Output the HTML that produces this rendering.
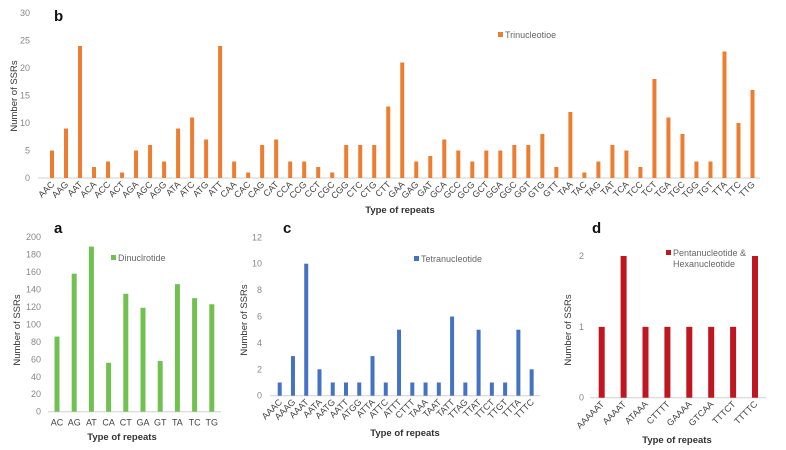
<!DOCTYPE html>
<html><head><meta charset="utf-8"><style>
body{margin:0;background:#fff;}
svg{display:block;font-family:"Liberation Sans",sans-serif;}
.tk{fill:#888;font-size:9px;}
.ti{fill:#444;font-size:9px;}
.pl{font-weight:bold;font-size:15px;fill:#111;}
</style></head><body>
<svg id="c" width="786" height="450" viewBox="0 0 786 450"></svg>
<script>
const triCats=["AAC","AAG","AAT","ACA","ACC","ACT","AGA","AGC","AGG","ATA","ATC","ATG","ATT","CAA","CAC","CAG","CAT","CCA","CCG","CCT","CGC","CGG","CTC","CTG","CTT","GAA","GAG","GAT","GCA","GCC","GCG","GCT","GGA","GGC","GGT","GTG","GTT","TAA","TAC","TAG","TAT","TCA","TCC","TCT","TGA","TGC","TGG","TGT","TTA","TTC","TTG"];
const triVals=[5,9,24,2,3,1,5,6,3,9,11,7,24,3,1,6,7,3,3,2,1,6,6,6,13,21,3,4,7,5,3,5,5,6,6,8,2,12,1,3,6,5,2,18,11,8,3,3,23,10,16];
const triTicks=[0,5,10,15,20,25,30];
const diCats=["AC","AG","AT","CA","CT","GA","GT","TA","TC","TG"];
const diVals=[86,158,189,56,135,119,58,146,130,123];
const diTicks=[0,20,40,60,80,100,120,140,160,180,200];
const tetraCats=["AAAC","AAAG","AAAT","AATA","AATG","AATT","ATGG","ATTA","ATTC","ATTT","CTTT","TAAA","TAAT","TATT","TTAG","TTAT","TTCT","TTGT","TTTA","TTTC"];
const tetraVals=[1,3,10,2,1,1,1,3,1,5,1,1,1,6,1,5,1,1,5,2];
const tetraTicks=[0,2,4,6,8,10,12];
const pentaCats=["AAAAAT","AAAAT","ATAAA","CTTTT","GAAAA","GTCAA","TTTCT","TTTTC"];
const pentaVals=[1,2,1,1,1,1,1,2];
const pentaTicks=[0,1,2];

const svg=document.getElementById('c');
const NS="http://www.w3.org/2000/svg";
function mk(t,a,txt){const e=document.createElementNS(NS,t);for(const k in a)e.setAttribute(k,a[k]);if(txt!==undefined)e.textContent=txt;svg.appendChild(e);return e;}

function panel(o,cats,vals,ticks){
  const max=ticks[ticks.length-1];
  const y=v=>o.y0-(v/max)*(o.y0-o.yTop);
  const x=i=>o.x0+i*o.dx;
  let e;
  e=mk('line',{x1:o.ax0,x2:o.ax1,y1:o.y0,y2:o.y0,stroke:'#d0d0d0','stroke-width':1});
  
  
  ticks.forEach(t=>{
    e=mk('text',{x:o.tx,y:y(t)+3,'text-anchor':'end',class:'tk'},t);
    
    
  });
  cats.forEach((c,i)=>{
    e=mk('rect',{x:x(i)-o.bw/2,y:y(vals[i]),width:o.bw,height:o.y0-y(vals[i]),fill:o.color});
    
    
    if(o.rot){
      e=mk('text',{x:x(i)+3,y:o.y0+7,'text-anchor':'end',class:'ti',transform:`rotate(-45 ${x(i)+3} ${o.y0+7})`},c);
    }else{
      e=mk('text',{x:x(i),y:o.y0+14,'text-anchor':'middle',class:'ti'},c);
    }
    
    
  });
  e=mk('text',{x:o.xtx,y:o.xty,'text-anchor':'middle',style:'font-size:9.5px;font-weight:bold;fill:#333'},'Type of repeats');
  
  
  e=mk('text',{x:o.ytx,y:o.yty,'text-anchor':'middle',transform:`rotate(-90 ${o.ytx} ${o.yty})`,style:'font-size:9.5px;fill:#333'},'Number of SSRs');
  
  
  e=mk('rect',{x:o.lx,y:o.ly-6,width:5,height:5,fill:o.color});
  
  
  o.leg.forEach((l,k)=>{
    e=mk('text',{x:o.lx+7,y:o.ly+k*11,style:'font-size:9px;fill:#666'},l);
    
    
  });
  e=mk('text',{x:o.px,y:o.py,class:'pl'},o.id);
  
  
}
panel({id:'b',x0:52,dx:14.01,y0:178,yTop:13,ax0:38,ax1:760,tx:30,bw:4,color:'#ED7D31',rot:true,xtx:400,xty:213,ytx:17,yty:96,lx:498,ly:38,leg:['Trinucleotioe'],px:54,py:21},triCats,triVals,triTicks);
panel({id:'a',x0:57,dx:17.2,y0:411.7,yTop:237,ax0:48,ax1:221,tx:41,bw:5,color:'#70C150',rot:false,xtx:122,xty:440,ytx:20,yty:330,lx:111,ly:261,leg:['Dinuclrotide'],px:54,py:233},diCats,diVals,diTicks);
panel({id:'c',x0:279.7,dx:13.26,y0:395.7,yTop:237.3,ax0:270,ax1:540,tx:262,bw:4,color:'#4472C4',rot:true,xtx:405,xty:436,ytx:247,yty:320,lx:414,ly:262,leg:['Tetranucleotide'],px:283,py:233},tetraCats,tetraVals,tetraTicks);
panel({id:'d',x0:601.7,dx:21.9,y0:397.7,yTop:256,ax0:590,ax1:766,tx:584,bw:6,color:'#C0161F',rot:true,xtx:677,xty:443,ytx:571,yty:330,lx:666,ly:256,leg:['Pentanucleotide &','Hexanucleotide'],px:592,py:233},pentaCats,pentaVals,pentaTicks);
</script>
</body></html>
